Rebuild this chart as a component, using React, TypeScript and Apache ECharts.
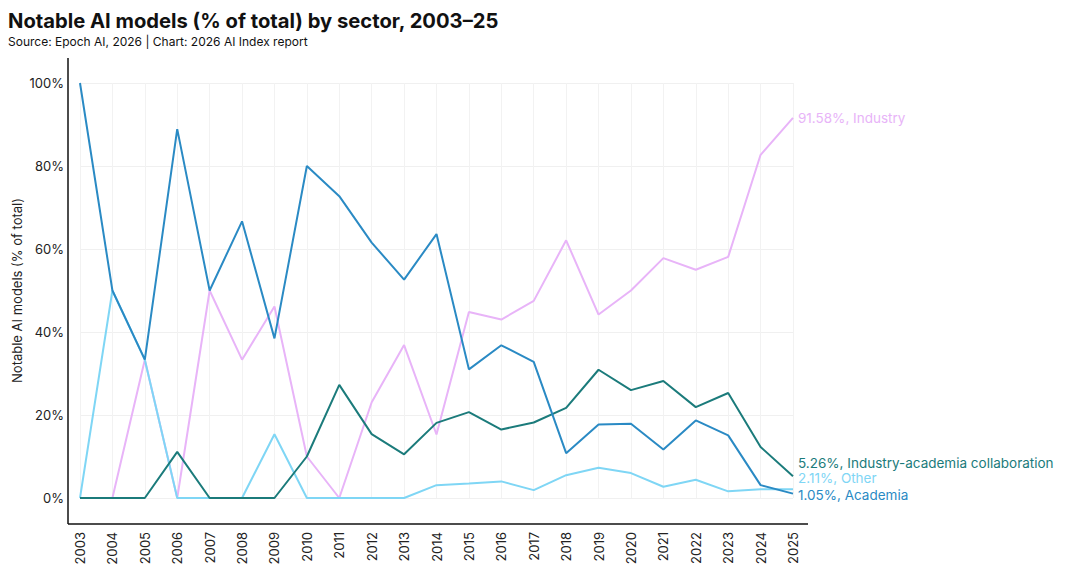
import React, { useEffect, useRef } from "react";
import * as echarts from "echarts";

const years = ["2003","2004","2005","2006","2007","2008","2009","2010","2011","2012","2013","2014","2015","2016","2017","2018","2019","2020","2021","2022","2023","2024","2025"];
const academia = [100, 50, 33.33, 88.89, 50, 66.67, 38.46, 80, 72.73, 61.54, 52.63, 63.6, 31.0, 36.8, 32.8, 10.8, 17.7, 17.9, 11.7, 18.7, 15.1, 3.1, 1.05];
const other = [0, 50, 33.33, 0, 0, 0, 15.38, 0, 0, 0, 0, 3.1, 3.5, 4.0, 1.9, 5.5, 7.3, 6.0, 2.7, 4.4, 1.6, 2.1, 2.11];
const industry = [0, 0, 33.33, 0, 50, 33.33, 46.15, 10, 0, 23.08, 36.84, 15.3, 44.8, 43.0, 47.5, 62.1, 44.2, 50.0, 57.8, 55.0, 58.1, 82.7, 91.58];
const collab = [0, 0, 0, 11.11, 0, 0, 0, 10, 27.27, 15.38, 10.53, 18.1, 20.7, 16.5, 18.2, 21.7, 30.9, 26.0, 28.2, 21.9, 25.3, 12.3, 5.26];
const yTicks = [0, 20, 40, 60, 80, 100];

const FONT = "Inter, 'Noto Sans', sans-serif";

export default function App() {
  const ref = useRef<HTMLDivElement>(null);
  useEffect(() => {
    if (!ref.current) return;
    const chart = echarts.init(ref.current, null, { renderer: "svg" });
    const mk = (name: string, data: number[], color: string, offsetY: number) => ({
      name,
      type: "line",
      data,
      symbol: "none",
      lineStyle: { color, width: 2 },
      itemStyle: { color },
      z: 3,
      endLabel: {
        show: true,
        color,
        fontFamily: FONT,
        fontSize: 13.5,
        distance: 5,
        offset: [0, offsetY],
        formatter: (p: any) => `${Number(p.value).toFixed(2)}%, ${name}`,
      },
    });
    chart.setOption({
      animation: false,
      backgroundColor: "#ffffff",
      textStyle: { fontFamily: FONT },
      title: {
        text: "Notable AI models (% of total) by sector, 2003–25",
        subtext: "Source: Epoch AI, 2026 | Chart: 2026 AI Index report",
        left: 0,
        top: 2,
        padding: 0,
        itemGap: 5,
        textStyle: { fontFamily: FONT, fontSize: 20.2, fontWeight: "bold", color: "#111" },
        subtextStyle: { fontFamily: FONT, fontSize: 12, color: "#111" },
      },
      grid: { left: 72, right: 279, top: 75, bottom: 72, containLabel: false, outerBoundsMode: "none" },
      xAxis: {
        type: "category",
        data: years,
        boundaryGap: false,
        axisLine: { show: false },
        axisTick: { show: false },
        splitLine: { show: true, lineStyle: { color: "#f2f2f2", width: 1 } },
        axisLabel: {
          rotate: 90,
          margin: 34,
          fontSize: 13,
          color: "#222",
          fontFamily: FONT,
          interval: 0,
        },
      },
      yAxis: {
        type: "value",
        min: 0,
        max: 100,
        interval: 20,
        name: "Notable AI models (% of total)",
        nameLocation: "middle",
        nameGap: 57,
        nameMoveOverlap: false,
        nameTextStyle: { fontSize: 13, color: "#222", fontFamily: FONT },
        axisLine: { show: false },
        axisTick: { show: false },
        splitLine: { show: true, lineStyle: { color: "#f0f0f0", width: 1 } },
        axisLabel: {
          margin: 16,
          fontSize: 13,
          color: "#222",
          fontFamily: FONT,
          formatter: (v: number) => (yTicks.includes(v) ? `${v}%` : ""),
        },
      },
      graphic: [
        { type: "line", shape: { x1: 60, y1: 50, x2: 60, y2: 516 }, style: { stroke: "#111", lineWidth: 1.5 }, z: 10 },
        { type: "line", shape: { x1: 60, y1: 516, x2: 800, y2: 516 }, style: { stroke: "#111", lineWidth: 1.5 }, z: 10 },
      ],
      series: [
        mk("Industry", industry, "#e8b4f8", 0),
        mk("Other", other, "#7fd6f5", -11),
        mk("Industry-academia collaboration", collab, "#1b7b7b", -13),
        mk("Academia", academia, "#2a8ac4", 1),
      ],
    });
    return () => chart.dispose();
  }, []);
  return <div ref={ref} style={{ width: 1064, height: 562 }} />;
}
